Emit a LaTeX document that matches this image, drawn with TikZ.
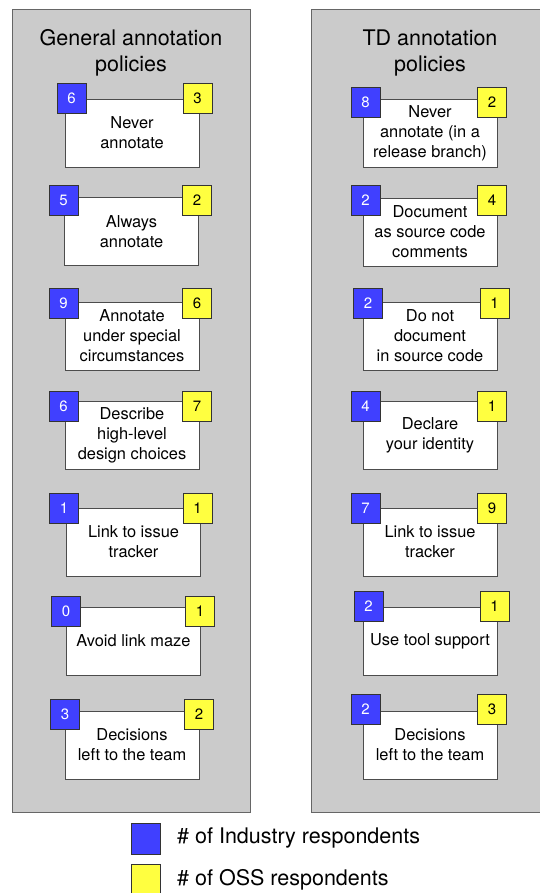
\documentclass[tikz,border=0pt]{standalone}
\usepackage{fontspec}
\setmainfont{TeX Gyre Heros}
\usepackage{xcolor}
\definecolor{panelgray}{HTML}{CBCBCB}
\definecolor{indblue}{HTML}{4040FF}
\definecolor{ossyellow}{HTML}{FFFF40}
\usetikzlibrary{positioning}

\begin{document}
\begin{tikzpicture}[x=1pt, y=-1pt,
  panel/.style={draw=black!60, fill=panelgray, line width=0.9pt},
  heading/.style={align=center, font=\fontsize{21.5}{26}\selectfont},
  policy/.style={draw=black!70, fill=white, line width=0.9pt, minimum width=134pt, minimum height=68pt, inner sep=0pt, align=center, font=\fontsize{16.4}{20}\selectfont},
  industry/.style={draw=black!80, fill=indblue, line width=0.8pt, minimum width=29pt, minimum height=30pt, inner sep=0pt, text=white, font=\fontsize{15}{18}\selectfont},
  oss/.style={draw=black!80, fill=ossyellow, line width=0.8pt, minimum width=29pt, minimum height=30pt, inner sep=0pt, text=black, font=\fontsize{15}{18}\selectfont},
  legendtext/.style={anchor=west, inner sep=0pt, font=\fontsize{21.5}{26}\selectfont}]

  \useasboundingbox (0,0) rectangle (539,893);

  % The two panels
  \draw[panel] (12,9) rectangle (250,812);
  \draw[panel] (311,9) rectangle (552,812);
  \node[heading] (genhead) at (131,53) {General annotation\\policies};
  \node[heading] (tdhead) at (430,53) {TD annotation\\policies};

  % General annotation policies
  \node[policy] (G1) at (132,133) {Never\\annotate};
  \node[industry] (G1i) at (71.5,98) {6};
  \node[oss] (G1o) at (197.5,98) {3};

  \node[policy] (G2) at (131.5,231.5) {Always\\annotate};
  \node[industry] (G2i) at (63.5,200.5) {5};
  \node[oss] (G2o) at (197,200.5) {2};

  \node[policy] (G3) at (132,336) {Annotate\\under special\\circumstances};
  \node[industry] (G3i) at (63.5,303) {9};
  \node[oss] (G3o) at (197,303) {6};

  \node[policy] (G4) at (132,435) {Describe\\high-level\\design choices};
  \node[industry] (G4i) at (63.5,406.5) {6};
  \node[oss] (G4o) at (197,406.5) {7};

  \node[policy] (G5) at (133.5,542) {Link to issue\\tracker};
  \node[industry] (G5i) at (64,508.5) {1};
  \node[oss] (G5o) at (197.5,508.5) {1};

  \node[policy] (G6) at (133.5,641) {Avoid link maze};
  \node[industry] (G6i) at (66,611.5) {0};
  \node[oss] (G6o) at (200,611.5) {1};

  \node[policy] (G7) at (132,745) {Decisions\\left to the team};
  \node[industry] (G7i) at (65,714) {3};
  \node[oss] (G7o) at (199,714) {2};

  % TD annotation policies
  \node[policy] (T1) at (430,133) {Never\\annotate (in a\\release branch)};
  \node[industry] (T1i) at (365.5,102) {8};
  \node[oss] (T1o) at (492,102) {2};

  \node[policy] (T2) at (430,232) {Document\\as source code\\comments};
  \node[industry] (T2i) at (365.5,200.5) {2};
  \node[oss] (T2o) at (492,200.5) {4};

  \node[policy] (T3) at (430,336) {Do not\\document\\in source code};
  \node[industry] (T3i) at (368,303) {2};
  \node[oss] (T3o) at (494.5,303) {1};

  \node[policy] (T4) at (430,435) {Declare\\your identity};
  \node[industry] (T4i) at (365.5,406.5) {4};
  \node[oss] (T4o) at (492,406.5) {1};

  \node[policy] (T5) at (430,542) {Link to issue\\tracker};
  \node[industry] (T5i) at (365.5,508.5) {7};
  \node[oss] (T5o) at (492,508.5) {9};

  \node[policy] (T6) at (430,641.5) {Use tool support};
  \node[industry] (T6i) at (368.5,606) {2};
  \node[oss] (T6o) at (494.5,606) {1};

  \node[policy] (T7) at (430,745) {Decisions\\left to the team};
  \node[industry] (T7i) at (365.5,709.5) {2};
  \node[oss] (T7o) at (492,709.5) {3};

  % Legend
  \node[industry, minimum height=31pt] (legI) at (146,838.5) {};
  \node[oss, minimum height=31pt] (legO) at (146,880) {};
  \node[legendtext] (legItext) at (177,838) {\# of Industry respondents};
  \node[legendtext] (legOtext) at (177,880) {\# of OSS respondents};

\end{tikzpicture}
\end{document}
